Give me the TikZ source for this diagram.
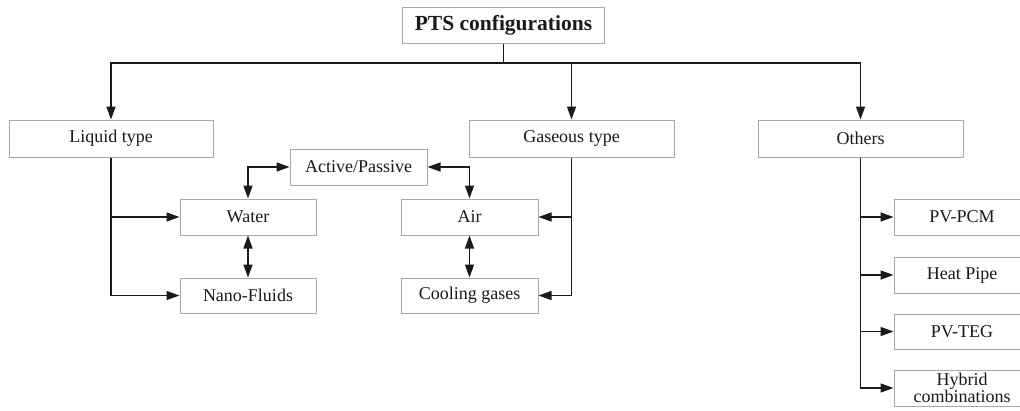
\documentclass[tikz,border=0pt]{standalone}
\usepackage{fontspec}
\setmainfont{Liberation Serif}
\usetikzlibrary{arrows.meta}
\definecolor{boxgray}{HTML}{A8A8A8}
\definecolor{ink}{HTML}{1A1A1A}
\tikzset{
  box/.style={draw=boxgray, line width=1pt, fill=white, text=ink, inner sep=0pt, align=center,
    font=\fontsize{18}{17}\selectfont},
  conn/.style={draw=ink, line width=1.4pt},
  arr/.style={conn, -{Triangle[length=13pt,width=9pt]}},
  darr/.style={conn, {Triangle[length=13pt,width=9pt]}-{Triangle[length=13pt,width=9pt]}},
}
\begin{document}
\begin{tikzpicture}[x=1pt,y=-1pt]
\useasboundingbox (0,0) rectangle (1020,410);
\node[box, minimum width=202pt, minimum height=36pt, font=\fontsize{21.5}{22}\selectfont\bfseries] (top) at (503.5,25) {PTS configurations};
\node[box, minimum width=204pt, minimum height=37pt] (liquid) at (111,138.5) {Liquid type};
\node[box, minimum width=205pt, minimum height=37pt] (gas) at (571.5,138.5) {Gaseous type};
\node[box, minimum width=205pt, minimum height=37pt] (others) at (860.5,138.5) {Others};
\node[box, minimum width=137pt, minimum height=36pt] (ap) at (358.5,167) {Active/Passive};
\node[box, minimum width=136pt, minimum height=36pt] (water) at (248,217) {Water};
\node[box, minimum width=136pt, minimum height=35pt] (nano) at (248,295.5) {Nano-Fluids};
\node[box, minimum width=137pt, minimum height=36pt] (air) at (469.5,217) {Air};
\node[box, minimum width=137pt, minimum height=35pt] (cool) at (469.5,295.5) {Cooling gases};
\node[box, minimum width=136pt, minimum height=36pt] (pcm) at (962,217) {PV-PCM};
\node[box, minimum width=136pt, minimum height=36pt] (heat) at (962,275) {Heat Pipe};
\node[box, minimum width=136pt, minimum height=35pt] (teg) at (962,331.5) {PV-TEG};
\node[box, minimum width=136pt, minimum height=36pt] (hyb) at (962,388) {Hybrid\\combinations};
\coordinate (j) at (503.5,63);
\draw[conn] (top.south) -- (j);
\draw[arr] (j) -| (liquid.north);
\draw[arr] (j) -| (gas.north);
\draw[arr] (j) -| (others.north);
\draw[arr] (liquid.south) |- (water.west);
\draw[arr] (liquid.south) |- (nano.west);
\draw[arr] (gas.south) |- (air.east);
\draw[arr] (gas.south) |- (cool.east);
\draw[arr] (others.south) |- (pcm.west);
\draw[arr] (others.south) |- (heat.west);
\draw[arr] (others.south) |- (teg.west);
\draw[arr] (others.south) |- (hyb.west);
\draw[darr] (water.south) -- (nano.north);
\draw[darr] (air.south) -- (cool.north);
\draw[darr] (ap.west) -| (water.north);
\draw[darr] (ap.east) -| (air.north);
\end{tikzpicture}
\end{document}
